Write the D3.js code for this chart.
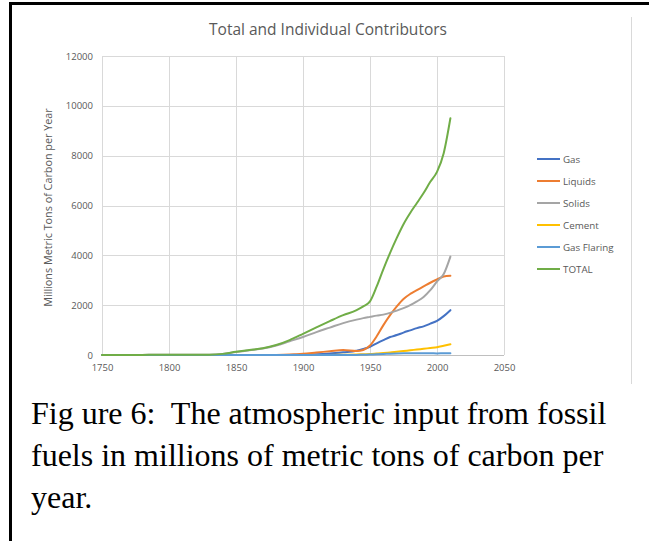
<!DOCTYPE html>
<html>
<head>
<meta charset="utf-8">
<script src="https://cdn.jsdelivr.net/npm/d3@7"></script>
<style>
  html, body { margin: 0; padding: 0; background: #fff; }
  svg { display: block; }
</style>
</head>
<body>
<svg id="chart" width="649" height="541"></svg>
<script>
// ---------- data ----------
const title = "Total and Individual Contributors";
const yAxisTitle = "Millions Metric Tons of Carbon per Year";
const captionLines = [
  "Fig ure 6:  The atmospheric input from fossil",
  "fuels in millions of metric tons of carbon per",
  "year."
];
const xTicks = [1750, 1800, 1850, 1900, 1950, 2000, 2050];
const yTicks = [0, 2000, 4000, 6000, 8000, 10000, 12000];
const seriesNames = ["Gas", "Liquids", "Solids", "Cement", "Gas Flaring", "TOTAL"];
const seriesColors = ["#4472C4", "#ED7D31", "#A5A5A5", "#FFC000", "#5B9BD5", "#70AD47"];

const years = [1750,1760,1770,1780,1790,1800,1810,1820,1830,1840,1850,1860,1870,1880,1890,1900,1910,1920,1930,1940,1945,1950,1955,1960,1965,1970,1975,1980,1985,1990,1995,2000,2005,2010];
const gas = [0,0,0,0,0,0,0,0,0,0,0,0,0,0,5,15,30,60,110,170,240,330,470,600,720,800,900,990,1080,1150,1260,1370,1560,1800];
const liquids = [0,0,0,0,0,0,0,0,0,0,0,0,0,5,20,50,100,150,200,160,200,380,750,1200,1600,1950,2250,2450,2600,2750,2900,3030,3150,3180];
const solids = [3,3,4,5,6,8,10,12,15,45,120,190,260,380,550,720,920,1100,1280,1420,1480,1530,1580,1620,1690,1780,1880,2000,2150,2330,2600,2950,3250,3950];
const cement = [0,0,0,0,0,0,0,0,0,0,0,0,0,0,0,0,0,0,10,20,30,40,60,80,105,130,160,190,220,250,280,310,370,430];
const gasFlaring = [0,0,0,0,0,0,0,0,0,0,0,0,0,0,0,0,0,0,0,0,10,20,30,40,55,65,70,75,72,70,66,65,67,70];
const total = [3,3,4,5,6,8,10,12,15,45,130,200,268,400,600,850,1110,1360,1600,1800,1950,2150,2750,3450,4100,4700,5250,5700,6100,6500,6950,7350,8100,9500];

const seriesValues = [gas, liquids, solids, cement, gasFlaring, total];

// ---------- layout ----------
const svg = d3.select("#chart");
const plot = { left: 102, right: 504, top: 56, bottom: 355 };

const x = d3.scaleLinear().domain([1750, 2050]).range([plot.left, plot.right]);
const y = d3.scaleLinear().domain([0, 12000]).range([plot.bottom, plot.top]);

const uiFont = "'Open Sans', 'Liberation Sans', sans-serif";
const textGray = "#595959";

// outer frame (black lines top and left)
svg.append("line").attr("x1", 10).attr("x2", 649).attr("y1", 3.5).attr("y2", 3.5)
  .attr("stroke", "#000").attr("stroke-width", 3);
svg.append("line").attr("x1", 10.5).attr("x2", 10.5).attr("y1", 2).attr("y2", 541)
  .attr("stroke", "#000").attr("stroke-width", 3);
// chart-area right edge
svg.append("line").attr("x1", 631.5).attr("x2", 631.5).attr("y1", 17).attr("y2", 384)
  .attr("stroke", "#d9d9d9").attr("stroke-width", 1);

// gridlines
const grid = svg.append("g");
grid.selectAll("line.h").data(yTicks).join("line")
  .attr("x1", plot.left).attr("x2", plot.right)
  .attr("y1", d => Math.round(y(d)) + 0.5).attr("y2", d => Math.round(y(d)) + 0.5)
  .attr("stroke", d => d === 0 ? "#bfbfbf" : "#d9d9d9").attr("stroke-width", 1);
grid.selectAll("line.v").data(xTicks).join("line")
  .attr("x1", d => Math.round(x(d)) + 0.5).attr("x2", d => Math.round(x(d)) + 0.5)
  .attr("y1", plot.top).attr("y2", plot.bottom)
  .attr("stroke", "#d9d9d9").attr("stroke-width", 1);

// axes (labels only)
const xAxis = d3.axisBottom(x).tickValues(xTicks).tickFormat(d3.format("d")).tickSize(0).tickPadding(9);
const gx = svg.append("g").attr("transform", `translate(0,${plot.bottom})`).call(xAxis);
gx.select(".domain").remove();
gx.selectAll("text").attr("font-family", uiFont).attr("font-size", 9.5).attr("fill", textGray);

const yAxis = d3.axisLeft(y).tickValues(yTicks).tickFormat(d3.format("d")).tickSize(0).tickPadding(9);
const gy = svg.append("g").attr("transform", `translate(${plot.left},0)`).call(yAxis);
gy.select(".domain").remove();
gy.selectAll("text").attr("font-family", uiFont).attr("font-size", 9.5).attr("fill", textGray);

// title
svg.append("text").attr("x", 328).attr("y", 35).attr("text-anchor", "middle")
  .attr("font-family", uiFont).attr("font-size", 15.5).attr("fill", textGray).text(title);

// y axis title
svg.append("text")
  .attr("transform", `translate(52,${(plot.top + plot.bottom) / 2 + 2}) rotate(-90)`)
  .attr("text-anchor", "middle")
  .attr("font-family", uiFont).attr("font-size", 10.8).attr("fill", textGray).text(yAxisTitle);

// lines
const line = d3.line().curve(d3.curveMonotoneX)
  .x((d, i) => x(years[i])).y(d => y(d));
const gLines = svg.append("g");
seriesValues.forEach((vals, k) => {
  gLines.append("path").datum(vals)
    .attr("d", line).attr("fill", "none")
    .attr("stroke", seriesColors[k]).attr("stroke-width", 2)
    .attr("stroke-linejoin", "round").attr("stroke-linecap", "round");
});

// legend
const legend = svg.append("g");
seriesNames.forEach((name, k) => {
  const ly = 159 + k * 22;
  legend.append("line").attr("x1", 537).attr("x2", 560).attr("y1", ly).attr("y2", ly)
    .attr("stroke", seriesColors[k]).attr("stroke-width", 2);
  legend.append("text").attr("x", 563).attr("y", ly + 3.5)
    .attr("font-family", uiFont).attr("font-size", 9.8).attr("fill", textGray).text(name);
});

// caption
const cap = svg.append("g");
captionLines.forEach((t, i) => {
  cap.append("text").attr("x", 31).attr("y", 424 + i * 42)
    .attr("font-family", "'Liberation Serif', 'Times New Roman', serif")
    .attr("font-size", 32).attr("fill", "#000")
    .style("white-space", "pre").text(t);
});
</script>
</body>
</html>
